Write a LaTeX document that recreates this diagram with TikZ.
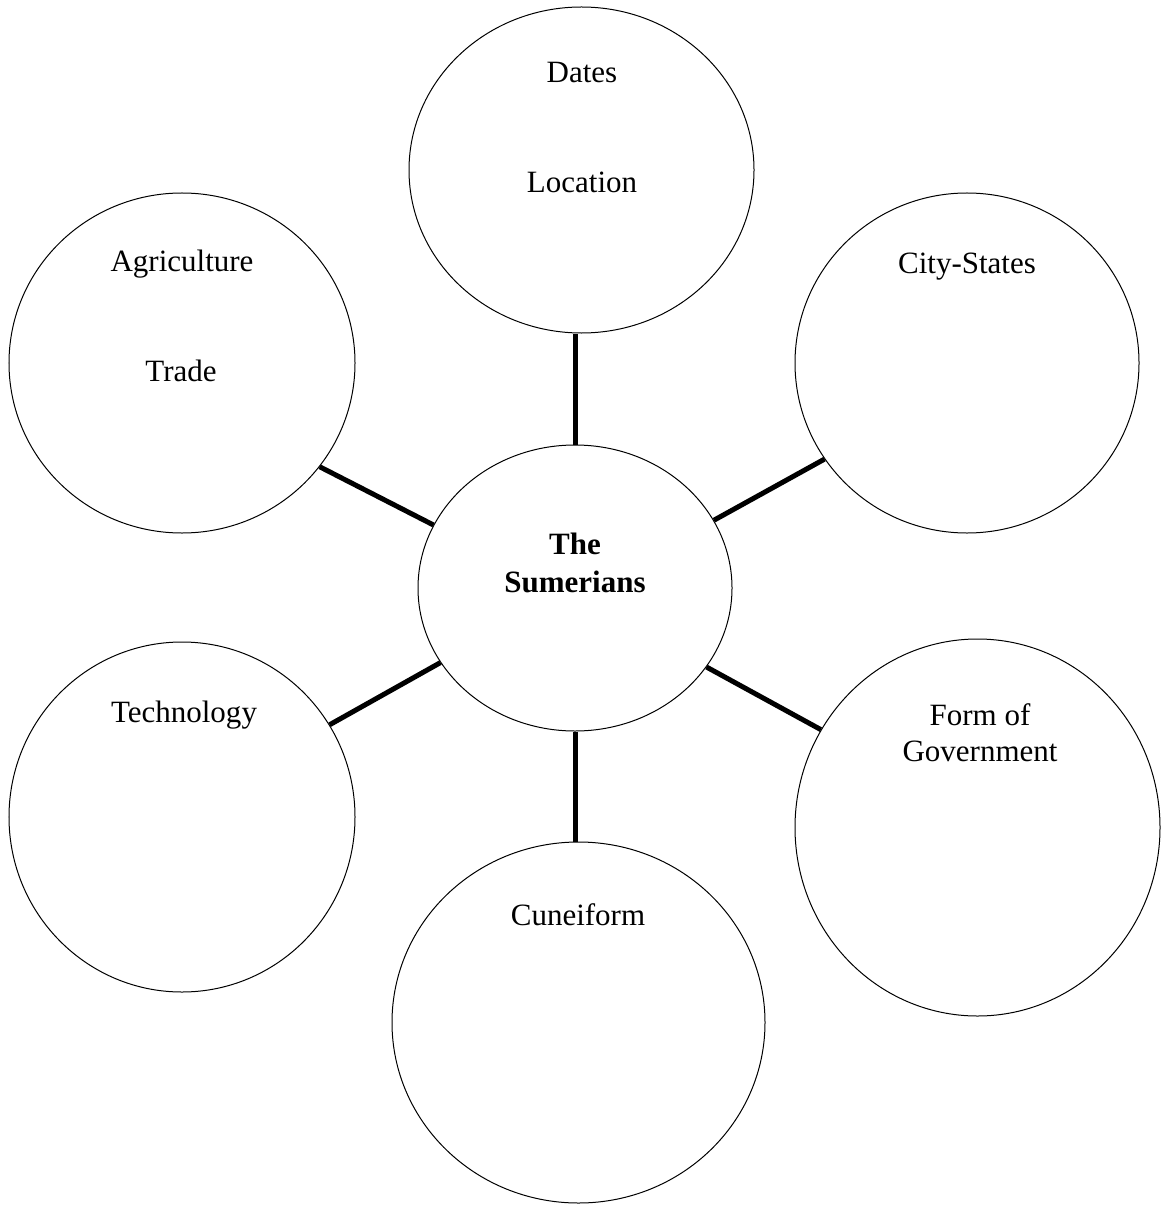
\documentclass[tikz,border=0pt]{standalone}
\usepackage{fontspec}
\setmainfont{Liberation Serif}
\usetikzlibrary{shapes.geometric}
\newcommand{\txt}{\fontsize{12.4}{14.4}\selectfont}
\newcommand{\bub}[3]{node[bub,minimum width=#1pt,minimum height=#2pt](#3){}}

\begin{document}
\begin{tikzpicture}[x=.4pt,y=-.4pt,
  bub/.style={draw,ellipse,inner sep=0pt,line width=.4pt},
  spoke/.style={line width=2pt},
  lab/.style={anchor=base,align=center,font=\txt}]
\useasboundingbox (0,0) rectangle (1160,1205);
\coordinate (c0) at (575,588);
\coordinate (c1) at (581.5,170);
\coordinate (c2) at (182,363);
\coordinate (c3) at (967,363);
\coordinate (c4) at (182,817);
\coordinate (c5) at (977.5,827.5);
\coordinate (c6) at (578.5,1022.5);
\path (c0) \bub{125.6}{114.4}{mid}
      (c1) \bub{138}{130.4}{top}
      (c2) \bub{138.4}{136}{agri}
      (c3) \bub{137.6}{136}{city}
      (c4) \bub{138.4}{140}{tech}
      (c5) \bub{146}{150.8}{gov}
      (c6) \bub{149.2}{144.4}{cun};
% spokes
\draw[spoke] (mid.north) -- (mid.north |- top.south);
\draw[spoke] (mid.south) -- (mid.south |- cun.north);
\draw[spoke] (mid.156.8) -- (agri.-37);
\draw[spoke] (mid.26.1) -- (city.214.8);
\draw[spoke] (mid.209.7) -- (tech.32.1);
\draw[spoke] (mid.-31.6) -- (gov.148.4);
% labels (base = last line)
\node[lab] (dates) at (582,83) {Dates};
\node[lab] (loc) at (582,193) {Location};
\node[lab] (agl) at (182,272) {Agriculture};
\node[lab] (trd) at (181,381) {Trade};
\node[lab] (cty) at (967,273) {City-States};
\node[lab] (tcl) at (184,722) {Technology};
\node[lab] (fog) at (980,761) {Form of\\Government};
\node[lab] (cnf) at (578,925) {Cuneiform};
\node[lab,font=\fontsize{12.4}{15.2}\selectfont\bfseries] (sum) at (575,592) {The\\Sumerians};
\end{tikzpicture}
\end{document}
